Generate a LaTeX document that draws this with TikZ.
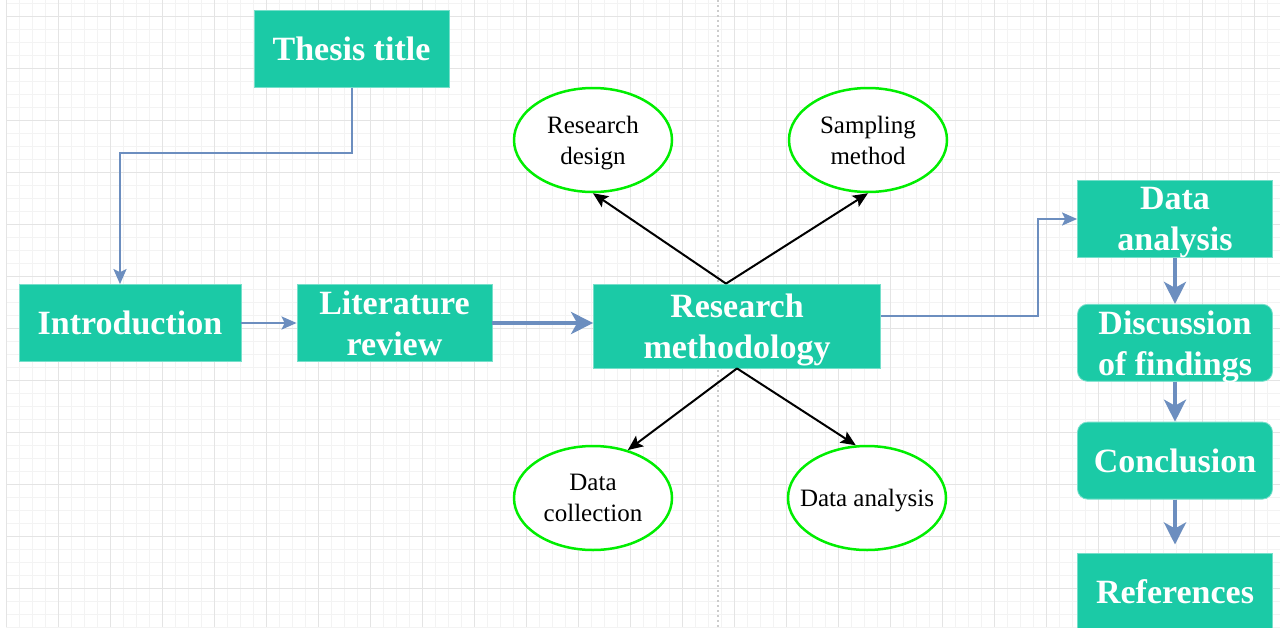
\documentclass[tikz,border=0pt]{standalone}
\usepackage{fontspec}
\setmainfont{Liberation Serif}
\usetikzlibrary{arrows.meta,positioning,shapes.geometric}
\definecolor{boxteal}{RGB}{27,202,166}
\definecolor{linkblue}{RGB}{108,142,191}
\definecolor{ovalgreen}{RGB}{0,238,0}
\definecolor{gridminor}{RGB}{243,243,243}
\definecolor{gridmajor}{RGB}{228,228,228}

\begin{document}
\begin{tikzpicture}[x=1pt,y=-1pt,
    box/.style={fill=boxteal, draw=boxteal!60!white, line width=0.8pt, text=white,
        font=\fontsize{34}{41}\selectfont\bfseries, align=center, inner sep=0pt,
        text depth=0pt, minimum width=195pt, minimum height=77pt},
    roundbox/.style={box, rounded corners=10pt},
    oval/.style={ellipse, draw=ovalgreen, line width=2.5pt, fill=white, text=black,
        font=\fontsize{25}{31}\selectfont, align=center, inner xsep=-16pt, inner ysep=0pt,
        text depth=0pt, minimum width=158pt, minimum height=104pt},
    link/.style={draw=linkblue, line width=2pt, -{Stealth[length=15pt,width=13pt,inset=3pt]}},
    thicklink/.style={draw=linkblue, line width=4.5pt, -{Stealth[length=22pt,width=22pt,inset=6pt]}},
    spoke/.style={draw=black, line width=2pt, -{Stealth[length=15pt,width=13pt,inset=3pt]}},
]
    \useasboundingbox (0,0) rectangle (1280,627);
    \fill[white] (0,0) rectangle (1280,627);
    \foreach \i in {0,...,98} \draw[gridminor, line width=0.8pt] (6+13*\i,0) -- (6+13*\i,627);
    \foreach \j in {0,...,48} \draw[gridminor, line width=0.8pt] (6,3+13*\j) -- (1280,3+13*\j);
    \foreach \i in {0,...,24} \draw[gridmajor, line width=1pt] (6+52*\i,0) -- (6+52*\i,627);
    \foreach \j in {0,...,11} \draw[gridmajor, line width=1pt] (6,16+52*\j) -- (1280,16+52*\j);
    \draw[black!20, line width=1.2pt, dash pattern=on 2pt off 3pt] (718,0) -- (718,627);

    \node[box] (title) at (351.5,49) {Thesis title};
    \node[box, minimum width=222pt] (intro) at (130,323) {Introduction};
    \node[box] (litrev) at (394.5,323) {Literature\\review};
    \node[box, minimum width=287pt, minimum height=84pt] (method) at (737,326) {Research\\methodology};
    \node[oval] (design) at (593,140) {Research\\design};
    \node[oval] (sampling) at (868,140) {Sampling\\method};
    \node[oval] (collection) at (593,498) {Data\\collection};
    \node[oval] (analysisoval) at (867,498) {Data analysis};
    \node[box] (analysis) at (1175,219) {Data\\analysis};
    \node[roundbox, below=46pt of analysis] (discussion) {Discussion\\of findings};
    \node[roundbox, below=40pt of discussion] (conclusion) {Conclusion};
    \node[box, below=53pt of conclusion] (refs) {References};

    \coordinate (bend) at (120,153);
    \draw[link] (title.south) |- (bend) -- (bend |- intro.north);
    \draw[link] (intro) -- (litrev);
    \draw[thicklink] (litrev.east) -- (litrev.east -| method.west);
    \draw[link] ([yshift=10pt]method.east) -- ++(157,0) |- (analysis.west);
    \draw[spoke] ([xshift=-11pt]method.north) -- (design.south);
    \draw[spoke] ([xshift=-11pt]method.north) -- (sampling.south);
    \draw[spoke] (method.south) -- (collection.54);
    \draw[spoke] (method.south) -- (analysisoval.102);
    \draw[thicklink] (analysis) -- (discussion);
    \draw[thicklink] (discussion) -- (conclusion);
    \draw[thicklink, shorten >=8pt] (conclusion) -- (refs);
\end{tikzpicture}
\end{document}
